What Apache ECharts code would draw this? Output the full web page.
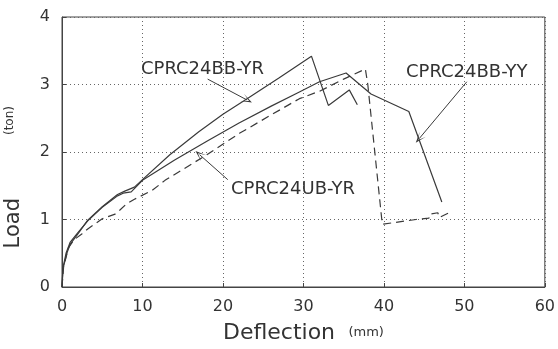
<!DOCTYPE html>
<html>
<head>
<meta charset="utf-8">
<script src="https://cdn.jsdelivr.net/npm/echarts@6/dist/echarts.min.js"></script>
<style>
  html, body { margin: 0; padding: 0; background: #fff; }
  #chart { width: 558px; height: 349px; }
</style>
</head>
<body>
<div id="chart"></div>
<script>
// 数据 (deflection mm, load ton)
var bbYr = [[0,0],[0.1,0.26],[0.6,0.5],[1,0.63],[2,0.79],[3.2,0.99],[5,1.19],[6.9,1.37],[7.8,1.42],[9,1.48],[10,1.59],[13.4,1.96],[17,2.3],[20,2.56],[23,2.79],[27,3.1],[31,3.42],[33.1,2.69],[35.7,2.92],[36.7,2.7]];
var bbYy = [[0,0],[0.15,0.3],[0.5,0.5],[1,0.66],[2,0.81],[3.2,0.98],[5,1.18],[6.9,1.35],[7.6,1.39],[8.6,1.41],[10,1.58],[14,1.88],[18,2.16],[22,2.43],[26,2.68],[29.5,2.89],[32,3.04],[35.3,3.17],[38.4,2.86],[43.1,2.6],[47.2,1.26]];
var ubYr = [[0,0],[0.2,0.3],[0.8,0.58],[1.5,0.7],[2.5,0.79],[3.2,0.86],[5,1.01],[6.6,1.08],[7.2,1.14],[8,1.23],[9,1.3],[11.2,1.43],[12.8,1.58],[15,1.74],[18,1.96],[22.1,2.28],[26,2.55],[29.5,2.79],[32,2.9],[35,3.08],[37.7,3.23],[38,3.0],[39.8,0.93],[44,1.0],[45.6,1.02],[45.7,1.08],[46.7,1.1],[46.9,1.03],[48.1,1.1]];

var xTicks = { min: 0, max: 60, interval: 10 };
var yTicks = { min: 0, max: 4, interval: 1 };

// 标注箭头 [起点, 终点]
var arrowYr = [[18.1, 3.08], [23.0, 2.77]];
var arrowUb = [[20.6, 1.59], [17.1, 1.96]];
var arrowYy = [[50.3, 3.04], [44.4, 2.2]];

var lineColor = '#3a3a3a';
var font = 'DejaVu Sans';
var arrowHead = 'path://M0,10 L5,0 L10,10 L5,3 Z';

function arrow(a) {
    return {
        silent: true,
        symbol: ['none', arrowHead],
        symbolSize: [8, 11],
        label: { show: false },
        lineStyle: { color: lineColor, width: 1, type: 'solid' },
        data: [[{ coord: a[0] }, { coord: a[1] }]]
    };
}

var chart = echarts.init(document.getElementById('chart'));

var option = {
    backgroundColor: '#fff',
    animation: false,
    grid: { left: 62, right: 12, top: 17, bottom: 58, show: true, borderColor: '#444', borderWidth: 1 },
    xAxis: {
        type: 'value',
        min: xTicks.min, max: xTicks.max, interval: xTicks.interval,
        axisLine: { lineStyle: { color: '#444' } },
        axisTick: { inside: true, length: 4, lineStyle: { color: '#444' } },
        axisLabel: { color: '#333', fontSize: 16, fontFamily: font, margin: 12 },
        splitLine: { show: true, lineStyle: { color: '#666', type: [1, 3], width: 1 } },
        name: '{a|Deflection}    {b|(mm)}',
        nameLocation: 'middle',
        nameGap: 35,
        nameTextStyle: {
            rich: {
                a: { fontSize: 22, fontFamily: font, color: '#333' },
                b: { fontSize: 13, fontFamily: font, color: '#333' }
            }
        }
    },
    yAxis: {
        type: 'value',
        min: yTicks.min, max: yTicks.max, interval: yTicks.interval,
        axisLine: { show: true, lineStyle: { color: '#444' } },
        axisTick: { show: true, inside: true, length: 4, lineStyle: { color: '#444' } },
        axisLabel: { color: '#333', fontSize: 16, fontFamily: font, margin: 12 },
        splitLine: { show: true, lineStyle: { color: '#666', type: [1, 3], width: 1 } }
    },
    graphic: [
        { type: 'text', left: 3, top: 198, rotation: Math.PI / 2, style: { text: 'Load', font: '21px DejaVu Sans', fill: '#333' } },
        { type: 'text', left: 4, top: 106, rotation: Math.PI / 2, style: { text: '(ton)', font: '12px DejaVu Sans', fill: '#333' } },
        { type: 'text', left: 141, top: 60, style: { text: 'CPRC24BB-YR', font: '18px DejaVu Sans', fill: '#333' } },
        { type: 'text', left: 231, top: 180, style: { text: 'CPRC24UB-YR', font: '18px DejaVu Sans', fill: '#333' } },
        { type: 'text', left: 406, top: 63, style: { text: 'CPRC24BB-YY', font: '18px DejaVu Sans', fill: '#333' } }
    ],
    series: [
        {
            name: 'CPRC24BB-YR', type: 'line', data: bbYr, showSymbol: false,
            lineStyle: { color: lineColor, width: 1.2 },
            markLine: arrow(arrowYr)
        },
        {
            name: 'CPRC24BB-YY', type: 'line', data: bbYy, showSymbol: false,
            lineStyle: { color: lineColor, width: 1.2 },
            markLine: arrow(arrowYy)
        },
        {
            name: 'CPRC24UB-YR', type: 'line', data: ubYr, showSymbol: false,
            lineStyle: { color: lineColor, width: 1.2, type: [8, 5] },
            markLine: arrow(arrowUb)
        }
    ]
};

chart.setOption(option);
</script>
</body>
</html>
